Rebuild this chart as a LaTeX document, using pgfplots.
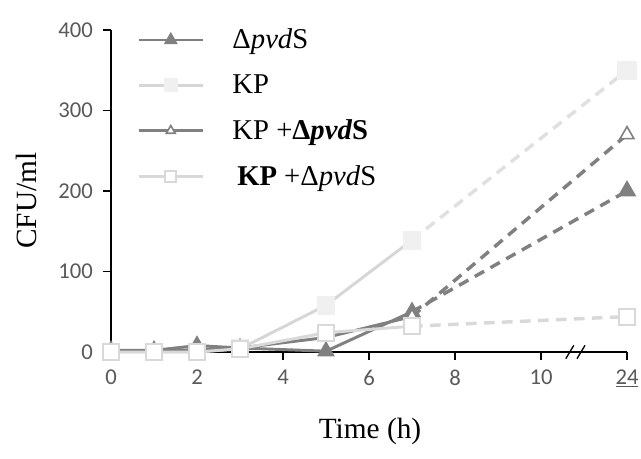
\documentclass[border=0pt]{standalone}
\usepackage{fontspec}
\setmainfont{Liberation Serif}
\newfontfamily\carlito{Carlito}
\usepackage{pgfplots}
\pgfplotsset{compat=1.18}
\definecolor{dk}{HTML}{808080}
\definecolor{kpl}{HTML}{D6D6D6}
\definecolor{kpm}{HTML}{F0F0F0}
\definecolor{kpd}{HTML}{E0E0E0}
\definecolor{sq}{HTML}{D9D9D9}
\definecolor{tk}{HTML}{595959}
\begin{document}
\begin{tikzpicture}
\useasboundingbox (-83.25pt,-80.25pt) rectangle (397.5pt,264pt);
\begin{axis}[
  scale only axis, width=387pt, height=241.5pt,
  xmin=0, xmax=12, ymin=0, ymax=400,
  axis lines=left,
  axis line style={-, black, line width=1pt},
  tick align=outside, major tick length=6pt,
  tick style={black, line width=1pt},
  xtick={0,2,4,6,8,10,12},
  xticklabels={0,2,4,6,8,10,\underline{24}},
  ytick={0,100,200,300,400},
  /pgf/number format/assume math mode=true,
  tick label style={font=\carlito\fontsize{17}{17}\selectfont, text=tk},
  xticklabel style={yshift=-4pt},
  yticklabel style={xshift=-4pt},
  xlabel={Time (h)}, ylabel={CFU/ml},
  label style={font=\fontsize{22}{22}\selectfont},
  xlabel style={at={(axis description cs:0.502,-0.248)}, anchor=center},
  ylabel style={at={(axis description cs:-0.163,0.47)}, anchor=center, rotate=0},
  clip=false,
  legend cell align=left,
  legend style={draw=none, fill=none, at={(axis description cs:0.05,1.012)}, anchor=north west,
    font=\fontsize{21.5}{21.5}\selectfont, row sep=14pt, inner sep=0pt,
    /tikz/every odd column/.append style={column sep=19pt}},
  legend image code/.code={\draw[mark repeat=2,mark phase=2, every mark/.append style={scale=0.7}] plot coordinates {(0cm,0cm)(0.85cm,0cm)(1.7cm,0cm)};},
]
% Delta pvdS
\addplot[dk, line width=2.2pt, mark=triangle*, mark size=5.5pt, mark options={fill=dk, draw=dk, solid}]
  coordinates {(0,2) (1,2) (2,8) (3,5) (5,1) (7,50)};
\addlegendentry{Δ\textit{pvd}S}
% KP
\addplot[kpl, line width=2.2pt, mark=square*, mark size=6pt, mark options={fill=kpm, draw=kpm, solid}]
  coordinates {(0,0) (1,0) (2,0) (3,4) (5,58) (7,139)};
\addlegendentry{KP}
% KP + Delta pvdS (bold)
\addplot[dk, line width=2.2pt, mark=triangle*, mark size=5.5pt, mark options={fill=white, draw=dk, line width=1.2pt, solid}]
  coordinates {(0,1) (1,1) (2,3) (3,5) (5,18) (7,44)};
\addlegendentry{KP +\textbf{Δ\textit{pvd}S}}
% KP + Delta pvdS (KP bold)
\addplot[sq, line width=2.2pt, mark=square*, mark size=6pt, mark options={fill=white, draw=sq, line width=1.5pt, solid}]
  coordinates {(0,0) (1,0) (2,0) (3,4) (5,24) (7,32)};
\addlegendentry{\,\textbf{KP} +Δ\textit{pvd}S}
% dashed continuations to 24 h
\addplot[forget plot, kpd, line width=2.6pt, dash pattern=on 8pt off 5.5pt, mark=square*, mark size=6pt, mark options={fill=kpm, draw=kpm, solid}, mark indices={2}]
  coordinates {(7,139) (12,350)};
\addplot[forget plot, dk, line width=2.6pt, dash pattern=on 8pt off 5.5pt, mark=triangle*, mark size=5.5pt, mark options={fill=dk, draw=dk, solid}, mark indices={2}]
  coordinates {(7,50) (12,200)};
\addplot[forget plot, dk, line width=2.6pt, dash pattern=on 8pt off 5.5pt, mark=triangle*, mark size=6pt, mark options={fill=white, draw=dk, line width=1.2pt, solid}, mark indices={2}]
  coordinates {(7,44) (12,270)};
\addplot[forget plot, sq, line width=2.6pt, dash pattern=on 8pt off 5.5pt, mark=square*, mark size=6pt, mark options={fill=white, draw=sq, line width=1.5pt, solid}, mark indices={2}]
  coordinates {(7,32) (12,44)};
% axis break marks
\draw[black, line width=1pt] ([xshift=-3pt,yshift=-5pt]axis cs:10.67,0) -- ([xshift=3pt,yshift=5pt]axis cs:10.67,0);
\draw[black, line width=1pt] ([xshift=-3pt,yshift=-5pt]axis cs:10.93,0) -- ([xshift=3pt,yshift=5pt]axis cs:10.93,0);
\end{axis}
\end{tikzpicture}
\end{document}
